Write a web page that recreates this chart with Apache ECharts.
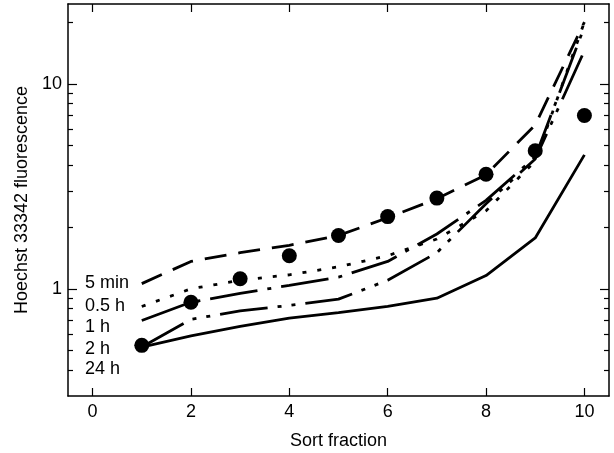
<!DOCTYPE html>
<html>
<head>
<meta charset="utf-8">
<script src="https://cdn.jsdelivr.net/npm/echarts@6/dist/echarts.min.js"></script>
<style>
  html, body { margin: 0; padding: 0; background: #fff; }
  #chart { width: 614px; height: 453px; }
</style>
</head>
<body>
<div id="chart"></div>
<script>
// sort fractions (x)
const fractions = [1, 2, 3, 4, 5, 6, 7, 8, 9, 10];
// Hoechst 33342 fluorescence per incubation time
const min5 = [1.06, 1.36, 1.5, 1.63, 1.82, 2.22, 2.75, 3.6, 6.3, 20];
const h05 = [0.82, 1.0, 1.1, 1.17, 1.28, 1.45, 1.75, 2.4, 4.2, 20];
const h1 = [0.70, 0.86, 0.95, 1.04, 1.14, 1.36, 1.85, 2.7, 4.4, 19];
const h2 = [0.52, 0.71, 0.78, 0.83, 0.89, 1.1, 1.5, 2.6, 4.3, 14.5];
const h24 = [0.52, 0.59, 0.655, 0.72, 0.765, 0.82, 0.9, 1.16, 1.77, 4.5];
const dots = [0.53, 0.86, 1.12, 1.45, 1.82, 2.25, 2.77, 3.62, 4.71, 7.0];
// legend texts
const legendNames = ['5 min', '0.5 h', '1 h', '2 h', '24 h'];
// ticks
const xTicks = [0, 2, 4, 6, 8, 10];
const yMajor = [1, 10];
const yMinor = [0.4, 0.5, 0.6, 0.7, 0.8, 0.9, 2, 3, 4, 5, 6, 7, 8, 9, 20];

const FONT = 'Liberation Sans, Arial, Helvetica, sans-serif';
const FS = 18;
const pairs = (ys) => fractions.map((x, i) => [x, ys[i]]);

const chart = echarts.init(document.getElementById('chart'));

function xAx(pos) {
  return {
    type: 'value',
    position: pos,
    min: -0.5,
    max: 10.5,
    splitLine: { show: false },
    axisLine: { show: true, onZero: false, lineStyle: { color: '#000', width: 1.5 } },
    axisTick: { inside: true, length: 8, customValues: xTicks, lineStyle: { color: '#000', width: 1.2 } },
    axisLabel: pos === 'bottom'
      ? { customValues: xTicks, color: '#000', fontSize: FS, fontFamily: FONT, margin: 7 }
      : { show: false },
    name: pos === 'bottom' ? 'Sort fraction' : '',
    nameLocation: 'middle',
    nameGap: 36,
    nameTextStyle: { color: '#000', fontSize: FS, fontFamily: FONT }
  };
}

function yAx(pos, major) {
  return {
    type: 'log',
    logBase: 10,
    position: pos,
    min: 0.3,
    max: 24.5,
    splitLine: { show: false },
    axisLine: { show: major, onZero: false, lineStyle: { color: '#000', width: 1.5 } },
    axisTick: { inside: true, length: major ? 9 : 5, customValues: major ? yMajor : yMinor, lineStyle: { color: '#000', width: 1.2 } },
    axisLabel: (pos === 'left' && major)
      ? { customValues: yMajor, color: '#000', fontSize: FS, fontFamily: FONT, margin: 6 }
      : { show: false },
    name: (pos === 'left' && major) ? 'Hoechst 33342 fluorescence' : '',
    nameLocation: 'middle',
    nameGap: 37,
    nameTextStyle: { color: '#000', fontSize: FS, fontFamily: FONT }
  };
}

function lineSeries(name, ys, type) {
  return {
    name: name,
    type: 'line',
    data: pairs(ys),
    symbol: 'none',
    xAxisIndex: 0,
    yAxisIndex: 0,
    lineStyle: { color: '#000', width: 2.8, type: type, cap: 'butt' },
    silent: true
  };
}

const labelY = [283, 306, 327, 349, 369];

chart.setOption({
  animation: false,
  backgroundColor: '#fff',
  grid: { left: 68, right: 5, top: 4, bottom: 57, containLabel: false, outerBoundsMode: 'none' },
  xAxis: [xAx('bottom'), xAx('top')],
  yAxis: [yAx('left', true), yAx('left', false), yAx('right', true), yAx('right', false)],
  graphic: legendNames.map((t, i) => ({
    type: 'text',
    x: 85,
    y: labelY[i],
    style: { text: t, fill: '#000', font: FS + 'px ' + FONT, verticalAlign: 'middle' }
  })),
  series: [
    lineSeries('5 min', min5, [22, 12]),
    lineSeries('0.5 h', h05, [4, 11]),
    lineSeries('1 h', h1, [48, 10, 4, 10]),
    lineSeries('2 h', h2, [48, 10, 4, 10, 4, 10]),
    lineSeries('24 h', h24, 'solid'),
    {
      name: 'dots',
      type: 'scatter',
      data: pairs(dots),
      symbol: 'circle',
      symbolSize: 15,
      itemStyle: { color: '#000', opacity: 1 },
      xAxisIndex: 0,
      yAxisIndex: 0,
      silent: true
    }
  ]
});
</script>
</body>
</html>
